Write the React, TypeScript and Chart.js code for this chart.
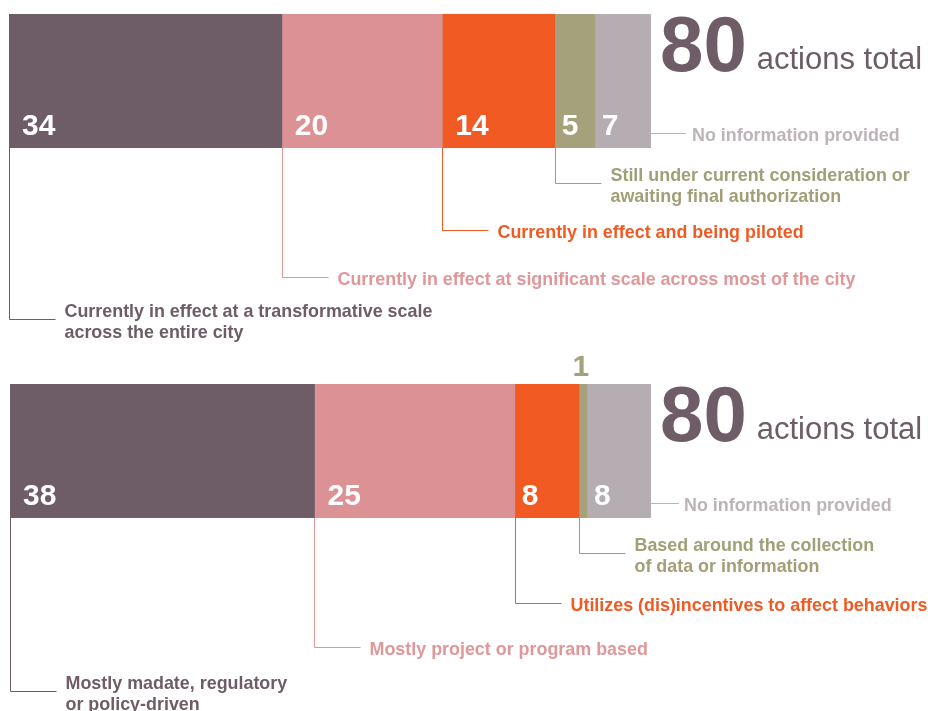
import React, { useEffect, useRef } from 'react';
import { Chart, registerables } from 'chart.js';

Chart.register(...registerables);

// ---------- data ----------
const statusLabels: string[][] = [
  ['Currently in effect at a transformative scale', 'across the entire city'],
  ['Currently in effect at significant scale across most of the city'],
  ['Currently in effect and being piloted'],
  ['Still under current consideration or', 'awaiting final authorization'],
  ['No information provided'],
];
const statusValues: number[] = [34, 20, 14, 5, 7];

const typeLabels: string[][] = [
  ['Mostly madate, regulatory', 'or policy-driven'],
  ['Mostly project or program based'],
  ['Utilizes (dis)incentives to affect behaviors'],
  ['Based around the collection', 'of data or information'],
  ['No information provided'],
];
const typeValues: number[] = [38, 25, 8, 1, 8];

const totalSuffix = 'actions total';

// ---------- styles ----------
const segmentColors = ['#6e5c67', '#dc9295', '#f15a22', '#a5a27b', '#b6adb3'];
const textColors = ['#6e5c67', '#e0979a', '#f15a22', '#a29f77', '#bcb4b9'];
const FONT_FAMILY = '"Liberation Sans", Arial, Helvetica, sans-serif';

type PanelLayout = {
  canvasTop: number;
  canvasHeight: number;
  padLeft: number;
  padRight: number;
  padTop: number;
  barHeight: number;
  drops: number[];
  noInfoLine: number;
  noInfoGap: number;
};

const topLayout: PanelLayout = {
  canvasTop: 0,
  canvasHeight: 352,
  padLeft: 9,
  padRight: 277,
  padTop: 14,
  barHeight: 134,
  drops: [171, 129, 82, 35],
  noInfoLine: 35,
  noInfoGap: 6,
};
const bottomLayout: PanelLayout = {
  canvasTop: 340,
  canvasHeight: 371,
  padLeft: 10,
  padRight: 277,
  padTop: 44,
  barHeight: 134,
  drops: [173, 129, 85, 35],
  noInfoLine: 28,
  noInfoGap: 5,
};

function makeAnnotPlugin(labels: string[][], values: number[], layout: PanelLayout) {
  return {
    id: 'annot',
    afterDraw(chart: any) {
      const ctx: CanvasRenderingContext2D = chart.ctx;
      const xs = chart.scales.x;
      const area = chart.chartArea;
      const top = area.top;
      const bottom = area.bottom;
      const total = values.reduce((a, b) => a + b, 0);
      ctx.save();
      let cum = 0;
      const n = values.length;
      values.forEach((v, i) => {
        const x0 = xs.getPixelForValue(cum);
        const x1 = xs.getPixelForValue(cum + v);
        cum += v;
        const w = x1 - x0;
        // value label
        ctx.font = `bold 30px ${FONT_FAMILY}`;
        ctx.textBaseline = 'alphabetic';
        if (w < 20) {
          ctx.fillStyle = segmentColors[i];
          ctx.textAlign = 'center';
          ctx.fillText(String(v), (x0 + x1) / 2 - 2, top - 8);
        } else {
          ctx.fillStyle = '#ffffff';
          ctx.textAlign = 'left';
          const off = w > 100 ? 13 : 7;
          ctx.fillText(String(v), x0 + off, bottom - 13);
        }
        // leader + label
        ctx.strokeStyle = textColors[i];
        ctx.lineWidth = 1;
        ctx.font = `bold 17.9px ${FONT_FAMILY}`;
        ctx.fillStyle = textColors[i];
        ctx.textAlign = 'left';
        const lines = labels[i];
        if (i === n - 1) {
          const ly = Math.round(bottom - 15) + 0.5;
          ctx.strokeStyle = '#bcb4b9';
          ctx.beginPath();
          ctx.moveTo(x1, ly);
          ctx.lineTo(x1 + layout.noInfoLine, ly);
          ctx.stroke();
          ctx.fillText(lines[0], x1 + layout.noInfoLine + layout.noInfoGap, ly + 7);
        } else {
          const lx = Math.round(x0) + 0.5;
          const ly = Math.round(bottom + layout.drops[i]) + 0.5;
          ctx.beginPath();
          ctx.moveTo(lx, bottom);
          ctx.lineTo(lx, ly);
          ctx.lineTo(lx + 46, ly);
          ctx.stroke();
          const tx = lx + 55;
          if (lines.length === 1) {
            ctx.fillText(lines[0], tx, ly + 7);
          } else {
            ctx.fillText(lines[0], tx, ly - 3);
            ctx.fillText(lines[1], tx, ly + 18);
          }
        }
      });
      // total
      const right = xs.getPixelForValue(total);
      ctx.fillStyle = '#6e5c67';
      ctx.textAlign = 'left';
      ctx.font = `bold 78px ${FONT_FAMILY}`;
      const numText = String(total);
      const baseY = top + 57;
      ctx.fillText(numText, right + 9, baseY);
      const nw = ctx.measureText(numText).width;
      ctx.font = `31px ${FONT_FAMILY}`;
      ctx.fillText(totalSuffix, right + 9 + nw + 10, baseY - 2);
      ctx.restore();
    },
  };
}

function Panel({ labels, values, layout }: { labels: string[][]; values: number[]; layout: PanelLayout }) {
  const ref = useRef<HTMLCanvasElement | null>(null);
  useEffect(() => {
    if (!ref.current) return;
    const total = values.reduce((a, b) => a + b, 0);
    const chart = new Chart(ref.current, {
      type: 'bar',
      data: {
        labels: [''],
        datasets: values.map((v, i) => ({
          label: labels[i].join(' '),
          data: [v],
          backgroundColor: segmentColors[i],
          borderWidth: 0,
          barPercentage: 1,
          categoryPercentage: 1,
        })),
      },
      options: {
        indexAxis: 'y',
        responsive: false,
        animation: false,
        events: [],
        layout: {
          padding: {
            left: layout.padLeft,
            right: layout.padRight,
            top: layout.padTop,
            bottom: layout.canvasHeight - layout.padTop - layout.barHeight,
          },
        },
        scales: {
          x: { stacked: true, min: 0, max: total, display: false },
          y: { stacked: true, display: false },
        },
        plugins: { legend: { display: false }, tooltip: { enabled: false } },
      },
      plugins: [makeAnnotPlugin(labels, values, layout)],
    } as any);
    return () => chart.destroy();
  }, []);
  return (
    <canvas
      ref={ref}
      width={928}
      height={layout.canvasHeight}
      style={{ position: 'absolute', left: 0, top: layout.canvasTop, width: 928, height: layout.canvasHeight, display: 'block' }}
    />
  );
}

export default function App() {
  return (
    <div style={{ position: 'absolute', left: 0, top: 0, width: 928, height: 711, background: '#ffffff', overflow: 'hidden' }}>
      <Panel labels={statusLabels} values={statusValues} layout={topLayout} />
      <Panel labels={typeLabels} values={typeValues} layout={bottomLayout} />
    </div>
  );
}
